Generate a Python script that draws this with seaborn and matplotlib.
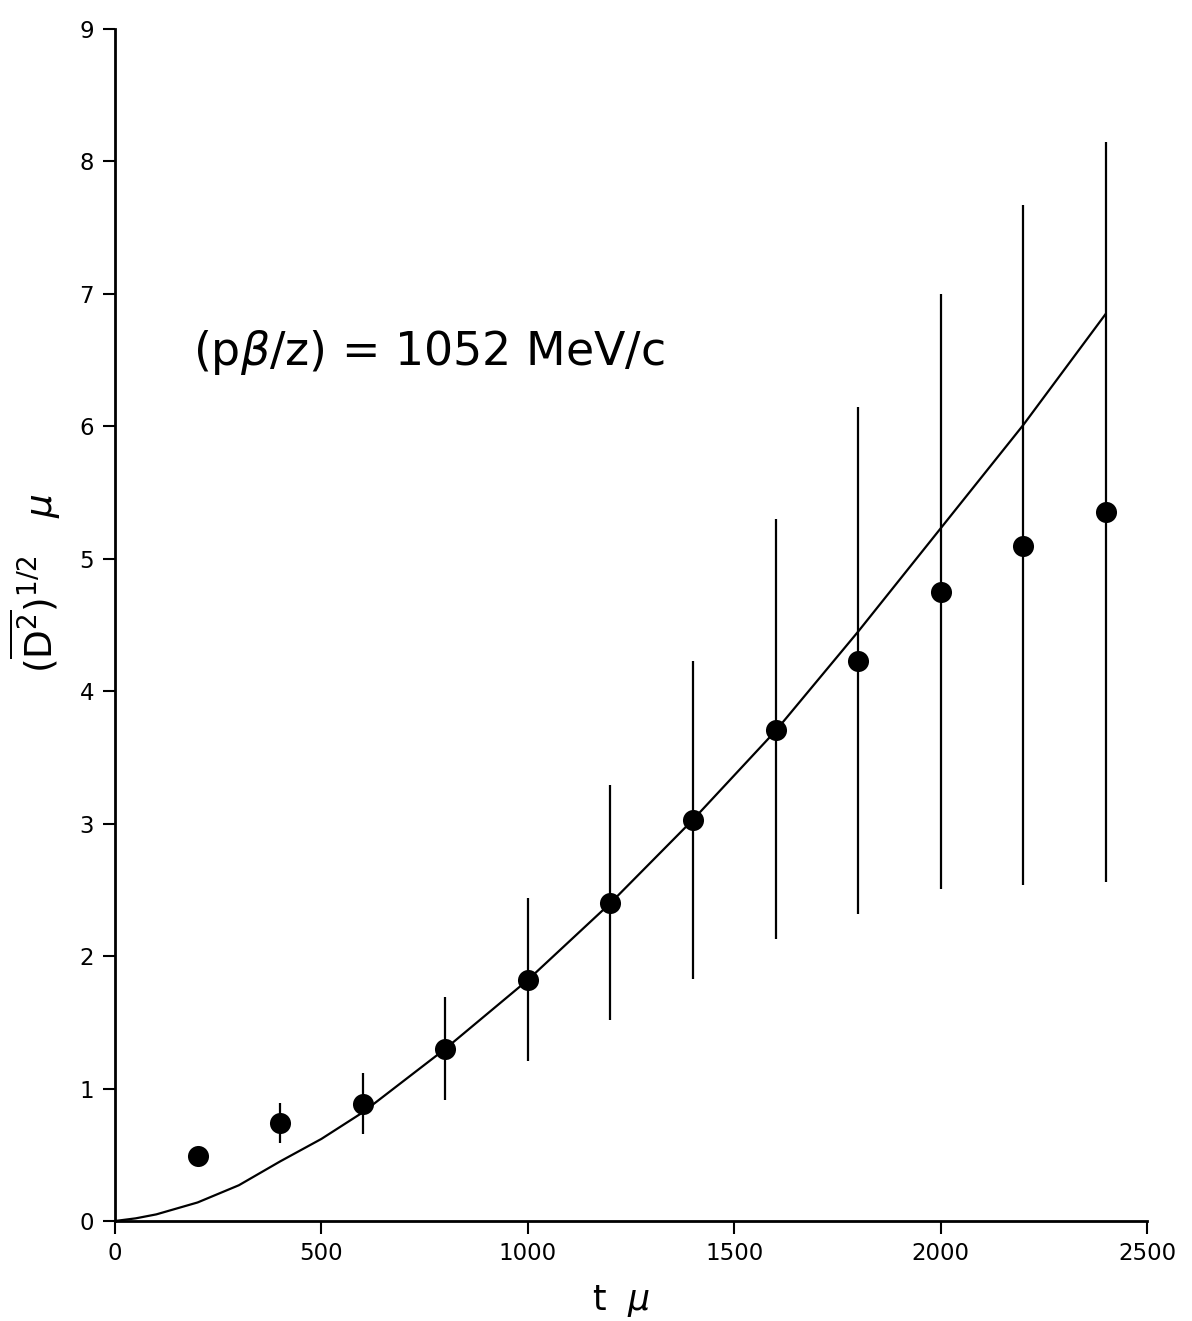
import matplotlib
matplotlib.use("Agg")
import matplotlib.pyplot as plt
import seaborn as sns
import pandas as pd

# measured points
t_points = [200, 400, 600, 800, 1000, 1200, 1400, 1600, 1800, 2000, 2200, 2400]
d_values = [0.49, 0.74, 0.88, 1.30, 1.82, 2.40, 3.03, 3.71, 4.23, 4.75, 5.10, 5.35]
err_low = [0.49, 0.59, 0.66, 0.91, 1.21, 1.52, 1.83, 2.13, 2.32, 2.51, 2.54, 2.56]
err_high = [0.49, 0.89, 1.12, 1.69, 2.44, 3.29, 4.23, 5.30, 6.15, 7.00, 7.67, 8.15]

# theoretical curve
t_curve = [0, 50, 100, 200, 300, 400, 500, 600, 800, 1000, 1200, 1400, 1600, 1800, 2000, 2200, 2400]
d_curve = [0.0, 0.02, 0.05, 0.14, 0.27, 0.45, 0.62, 0.82, 1.30, 1.82, 2.40, 3.03, 3.70, 4.45, 5.23, 6.01, 6.85]

x_ticks = [0, 500, 1000, 1500, 2000, 2500]
y_ticks = [0, 1, 2, 3, 4, 5, 6, 7, 8, 9]

sns.set_style("ticks")
plt.rcParams['font.family'] = ['DejaVu Sans']

fig = plt.figure(figsize=(11.92, 13.21), dpi=100)
ax = fig.add_axes([0.0965, 0.0757, 0.8658, 0.9023])

pts = pd.DataFrame({"t": t_points, "d": d_values, "lo": err_low, "hi": err_high})
curve = pd.DataFrame({"t": t_curve, "d": d_curve})

ax.vlines(pts["t"], pts["lo"], pts["hi"], color="black", lw=1.6, zorder=2)
sns.lineplot(data=curve, x="t", y="d", ax=ax, color="black", lw=1.6, zorder=3)
sns.scatterplot(data=pts, x="t", y="d", ax=ax, color="black", s=230, edgecolor="black",
                linewidth=0, zorder=4)

ax.set_xlim(0, 2500)
ax.set_ylim(0, 9)
ax.set_xticks(x_ticks)
ax.set_yticks(y_ticks)
ax.tick_params(axis="both", direction="out", length=9, width=1.5, labelsize=16.5, pad=6,
               color="black", labelcolor="black")
sns.despine(ax=ax)
for s in ("left", "bottom"):
    ax.spines[s].set_linewidth(2.0)
    ax.spines[s].set_color("black")

ax.set_xlabel(r"t  $\mu$", fontsize=25, color="black")
ax.xaxis.set_label_coords(0.49, -0.052)
ax.set_ylabel(r"$(\overline{\mathrm{D}^2})^{1/2}\ \ \ \mu$", fontsize=27, color="black")
ax.yaxis.set_label_coords(-0.05, 0.535)

ax.text(190, 6.56, r"(p$\beta$/z) = 1052 MeV/c", fontsize=33, va="center", ha="left",
        color="black")

fig.savefig("out.png", dpi=100, facecolor="white")
